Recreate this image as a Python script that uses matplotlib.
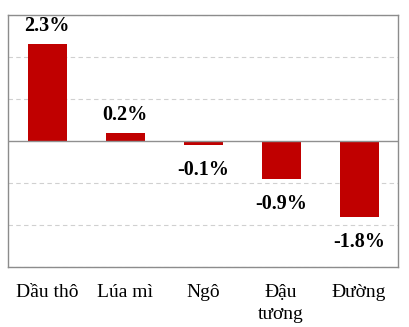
import matplotlib.pyplot as plt

# price change by commodity, percent
commodities = ["Dầu thô", "Lúa mì", "Ngô", "Đậu\ntương", "Đường"]
changes = [2.3, 0.2, -0.1, -0.9, -1.8]

plt.rcParams['font.family'] = ['Liberation Serif', 'DejaVu Serif']

fig = plt.figure(figsize=(4.1, 3.27), dpi=100)
ax = fig.add_axes([0.0195, 0.1835, 0.9515, 0.7705])

x = range(len(commodities))
ax.bar(x, changes, width=0.5, color="#C00000", zorder=3)

ax.set_xlim(-0.5, len(commodities) - 0.5)
ax.set_ylim(-3, 3)
ax.set_yticks([-3, -2, -1, 1, 2, 3])
ax.set_yticklabels([])
ax.tick_params(axis="y", length=0)
ax.grid(axis="y", color="#d0d0d0", linestyle=(0, (4, 3)), linewidth=0.8, zorder=0)
ax.axhline(0, color="#909090", linewidth=1.0, zorder=4)

ax.set_xticks(list(x))
ax.set_xticklabels(commodities, fontsize=14, va="top", linespacing=1.4)
ax.tick_params(axis="x", length=0, pad=12)

for s in ax.spines.values():
    s.set_color("#8c8c8c")
    s.set_linewidth(1.0)

for i, v in enumerate(changes):
    off = 18 if v >= 0 else -25
    ax.annotate(f"{v:.1f}%", (i, v), xytext=(0, off), textcoords="offset pixels",
                ha="center", va="center", fontsize=14.5, fontweight="bold")

fig.savefig("out.png", dpi=100)
